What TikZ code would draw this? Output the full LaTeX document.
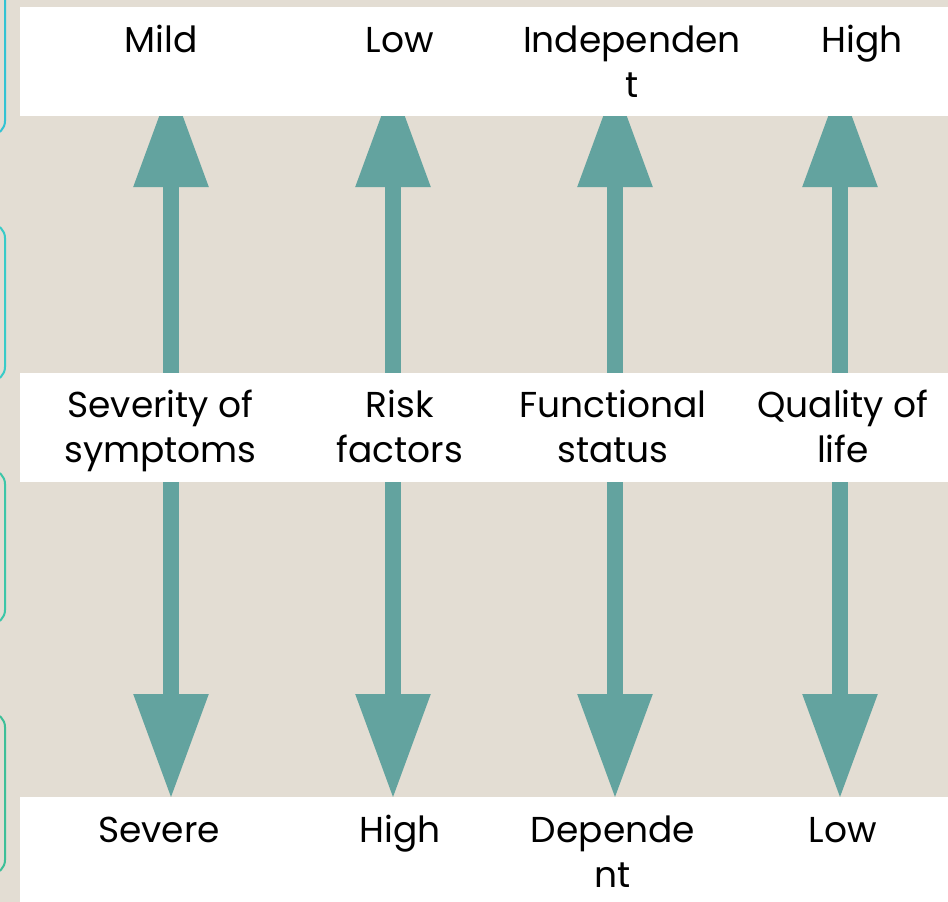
\documentclass[tikz,border=0pt]{standalone}
\usepackage{fontspec}
\setmainfont{Poppins}
\usetikzlibrary{arrows.meta}
\definecolor{beige}{HTML}{E3DDD3}
\definecolor{arrowcol}{HTML}{63A39F}
\definecolor{edgeA}{HTML}{33C3D3}
\definecolor{edgeB}{HTML}{38CBC8}
\definecolor{edgeC}{HTML}{3CC6A8}
\definecolor{edgeD}{HTML}{3DBF98}
\pgfdeclarelayer{bg}
\pgfsetlayers{bg,main}
\tikzset{
  band/.style={fill=white, draw=none, minimum width=928pt, inner sep=0pt, outer sep=0pt},
  lbl/.style={anchor=base, inner sep=0pt, outer sep=0pt, align=center,
    font=\fontsize{36}{45}\selectfont, text=black},
  arr/.style={draw=arrowcol, line width=16pt,
    -{Triangle[width=75.6pt,length=103pt,line width=0pt]}},
  tab/.style={line width=2pt, rounded corners=14pt}
}
\begin{document}
\begin{tikzpicture}[x=1pt,y=-1pt]
\useasboundingbox (0,0) rectangle (948,902);
\clip (0,0) rectangle (948,902);
\begin{pgfonlayer}{bg}
  \fill[beige] (0,0) rectangle (948,902);
\end{pgfonlayer}
% left tabs
\draw[tab, edgeA] (-40,-30) rectangle (5,135);
\draw[tab, edgeB] (-40,224) rectangle (5,381);
\draw[tab, edgeC] (-40,470) rectangle (5,624);
\draw[tab, edgeD] (-40,713) rectangle (5,874);
% bands
\node[band, minimum height=109pt] (topband) at (484,61.5) {};
\node[band, minimum height=109pt] (midband) at (484,427.5) {};
\node[band, minimum height=110pt] (botband) at (484,852) {};
% arrow end points
\coordinate (u1) at (171,84);  \coordinate (d1) at (171,797);
\coordinate (u2) at (393,84);  \coordinate (d2) at (393,797);
\coordinate (u3) at (615,84);  \coordinate (d3) at (615,797);
\coordinate (u4) at (840,84);  \coordinate (d4) at (840,797);
\begin{pgfonlayer}{bg}
  \foreach \i in {1,2,3,4}{
    \draw[arr] (midband.north -| u\i) -- (u\i);
    \draw[arr] (midband.south -| d\i) -- (d\i);
  }
\end{pgfonlayer}
% top labels (base anchor = last line)
\node[lbl] (t1) at (161,52) {Mild};
\node[lbl] (t2) at (400,52) {Low};
\node[lbl] (t3) at (632,97) {Independen\\t};
\node[lbl] (t4) at (862,52) {High};
% middle labels
\node[lbl] (m1) at (160.5,462) {Severity of\\symptoms};
\node[lbl] (m2) at (400,462) {Risk\\factors};
\node[lbl] (m3) at (613,462) {Functional\\status};
\node[lbl] (m4) at (843,462) {Quality of\\life};
% bottom labels
\node[lbl] (b1) at (159,842) {Severe};
\node[lbl] (b2) at (400,842) {High};
\node[lbl] (b3) at (613,887) {Depende\\nt};
\node[lbl] (b4) at (843,842) {Low};
\end{tikzpicture}
\end{document}
